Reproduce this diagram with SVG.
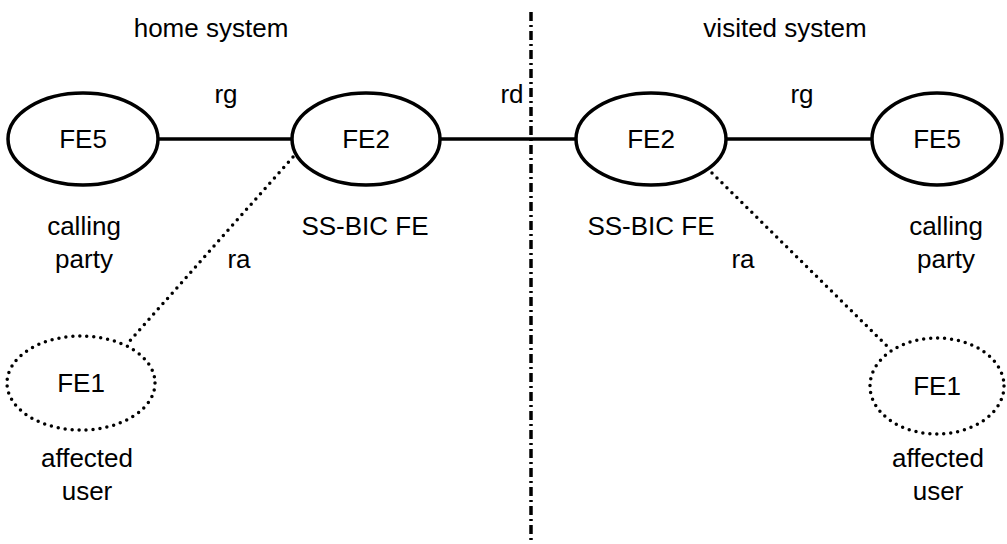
<svg xmlns="http://www.w3.org/2000/svg" width="1007" height="544" viewBox="0 0 1007 544">
<style>
text{font-family:"Liberation Sans",Arial,sans-serif;font-size:26px;fill:#000;text-anchor:middle}
.solid{fill:none;stroke:#000;stroke-width:3.5}
.dot{fill:none;stroke:#000;stroke-width:3.5;stroke-linecap:round;stroke-dasharray:0 7}
.dashdot{fill:none;stroke:#000;stroke-width:3.5;stroke-dasharray:9 4 2 4}
</style>
<rect width="1007" height="544" fill="#fff"/>
<g id="labels">
<text x="211" y="37">home system</text>
<text x="785" y="37">visited system</text>
</g>
<g id="connectors">
<line class="dashdot" x1="531" y1="12" x2="531" y2="540"/>
<line class="solid" x1="158" y1="139" x2="292" y2="139"/>
<line class="solid" x1="440" y1="139" x2="576" y2="139"/>
<line class="solid" x1="727" y1="139" x2="872" y2="139"/>
<line class="dot" x1="293" y1="157" x2="128" y2="343"/>
<line class="dot" x1="712" y1="173" x2="888" y2="347"/>
<text x="226" y="103">rg</text>
<text x="512" y="103">rd</text>
<text x="802" y="103">rg</text>
<text x="239" y="268">ra</text>
<text x="743" y="268">ra</text>
</g>
<g id="fe5-home">
<ellipse class="solid" cx="83" cy="139" rx="75" ry="46"/>
<text x="83" y="148">FE5</text>
<text x="84" y="235">calling</text>
<text x="84" y="268">party</text>
</g>
<g id="fe2-home">
<ellipse class="solid" cx="366" cy="139" rx="74" ry="46"/>
<text x="366" y="148">FE2</text>
<text x="365" y="235">SS-BIC FE</text>
</g>
<g id="fe2-visited">
<ellipse class="solid" cx="651" cy="139" rx="75" ry="46"/>
<text x="651" y="148">FE2</text>
<text x="651" y="235">SS-BIC FE</text>
</g>
<g id="fe5-visited">
<ellipse class="solid" cx="937" cy="139" rx="65" ry="46"/>
<text x="937" y="148">FE5</text>
<text x="946" y="235">calling</text>
<text x="946" y="268">party</text>
</g>
<g id="fe1-home">
<ellipse class="dot" cx="81" cy="383" rx="74" ry="47"/>
<text x="81" y="392">FE1</text>
<text x="87" y="467">affected</text>
<text x="87" y="500">user</text>
</g>
<g id="fe1-visited">
<ellipse class="dot" cx="937" cy="386" rx="67" ry="48"/>
<text x="937" y="395">FE1</text>
<text x="938" y="467">affected</text>
<text x="938" y="500">user</text>
</g>
</svg>
